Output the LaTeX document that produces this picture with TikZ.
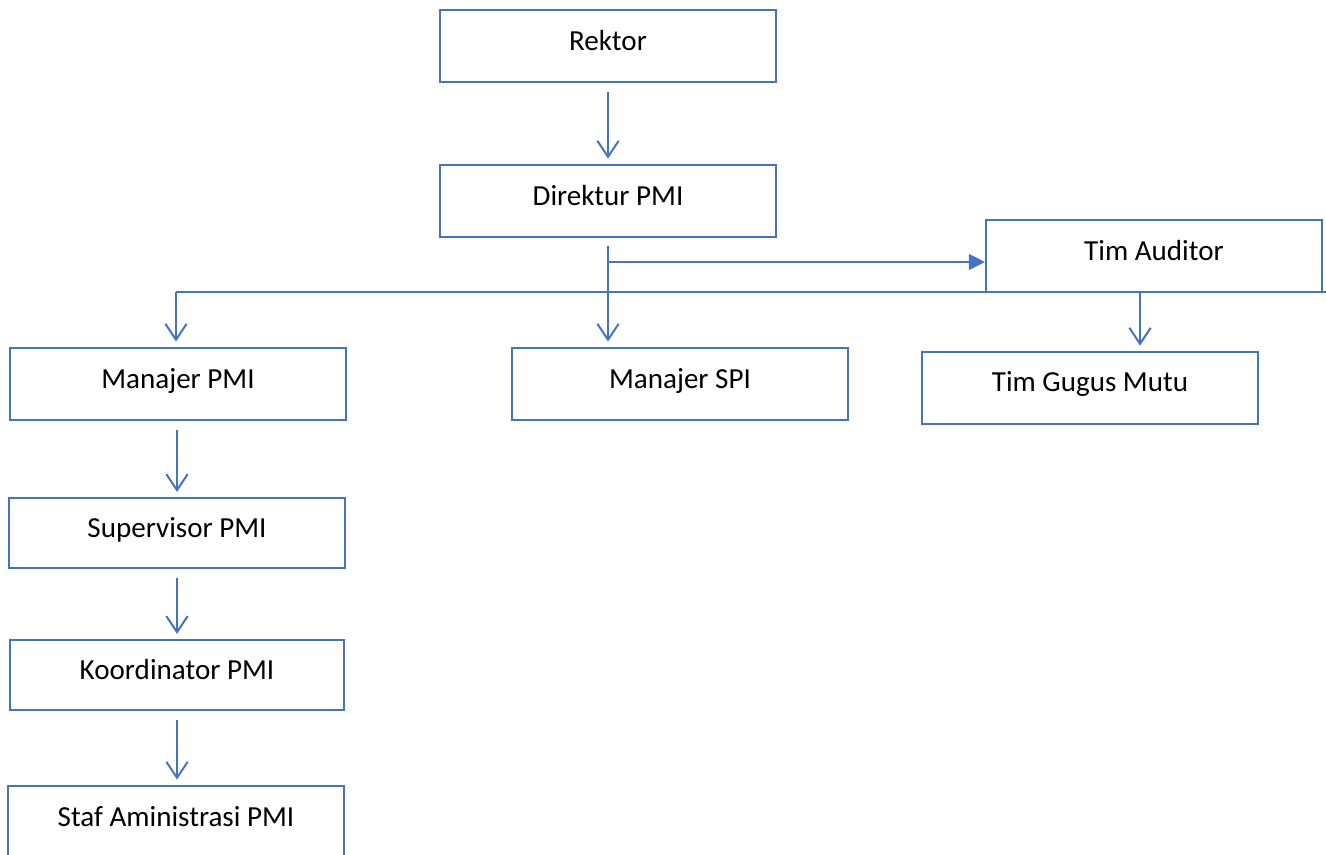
\documentclass[tikz,border=0pt]{standalone}
\usepackage{fontspec}
\setmainfont{Carlito}
\usetikzlibrary{arrows.meta}
\definecolor{orgblue}{HTML}{4472C4}
\tikzset{
    unit/.style={draw=orgblue,line width=1.6pt,minimum width=252pt,minimum height=54pt,
        inner sep=0pt,text depth=9pt,font=\fontsize{21.8}{26}\selectfont},
    down/.style={draw=orgblue,line width=1.5pt,-{Straight Barb[length=12pt,width=16pt,line width=1.5pt]},
        shorten <=7pt,shorten >=4pt},
    side/.style={draw=orgblue,line width=0.9pt,-{Triangle[length=12pt,width=12pt]}},
    bus/.style={draw=orgblue,line width=1.5pt}
}
\begin{document}
\begin{tikzpicture}[x=0.75pt,y=-0.75pt]
\useasboundingbox (0,0) rectangle (1326,855);
\clip (0,0) rectangle (1326,855);
% boxes
\node[unit] (rektor) at (608,46) {Rektor};
\node[unit] (direktur) at (608,201) {Direktur PMI};
\node[unit] (auditor) at (1154,256) {Tim Auditor};
\node[unit] (manpmi) at (178,384) {Manajer PMI};
\node[unit] (manspi) at (680,384) {Manajer SPI};
\node[unit] (gugus) at (1090,388) {Tim Gugus Mutu};
\node[unit,minimum height=52pt] (supervisor) at (177,533) {Supervisor PMI};
\node[unit,minimum height=52pt,minimum width=250pt] (koordinator) at (177,675) {Koordinator PMI};
\node[unit] (staf) at (176,822) {Staf Aministrasi PMI};
% junction lines
\coordinate (busL) at (176,292);
\coordinate (busR) at (1326,292);
\coordinate (tap) at (608,262);
\coordinate (drop) at (1140,292);
\draw[bus] (busL) -- (busR);
\draw[bus] (direktur.south) ++(0,8) -- (direktur.south |- busL);
\draw[side] (tap) -- (tap -| auditor.west);
% arrows
\draw[down] (rektor) -- (direktur);
\draw[down,shorten <=0pt] (direktur.south |- busL) -- (direktur.south |- manspi.north);
\draw[down,shorten <=0pt] (busL) -- (busL |- manpmi.north);
\draw[down,shorten <=0pt] (drop) -- (drop |- gugus.north);
\draw[down] (supervisor.north |- manpmi.south) -- (supervisor.north);
\draw[down] (supervisor.south) -- (supervisor.south |- koordinator.north);
\draw[down] (koordinator.south) -- (koordinator.south |- staf.north);
\end{tikzpicture}
\end{document}
